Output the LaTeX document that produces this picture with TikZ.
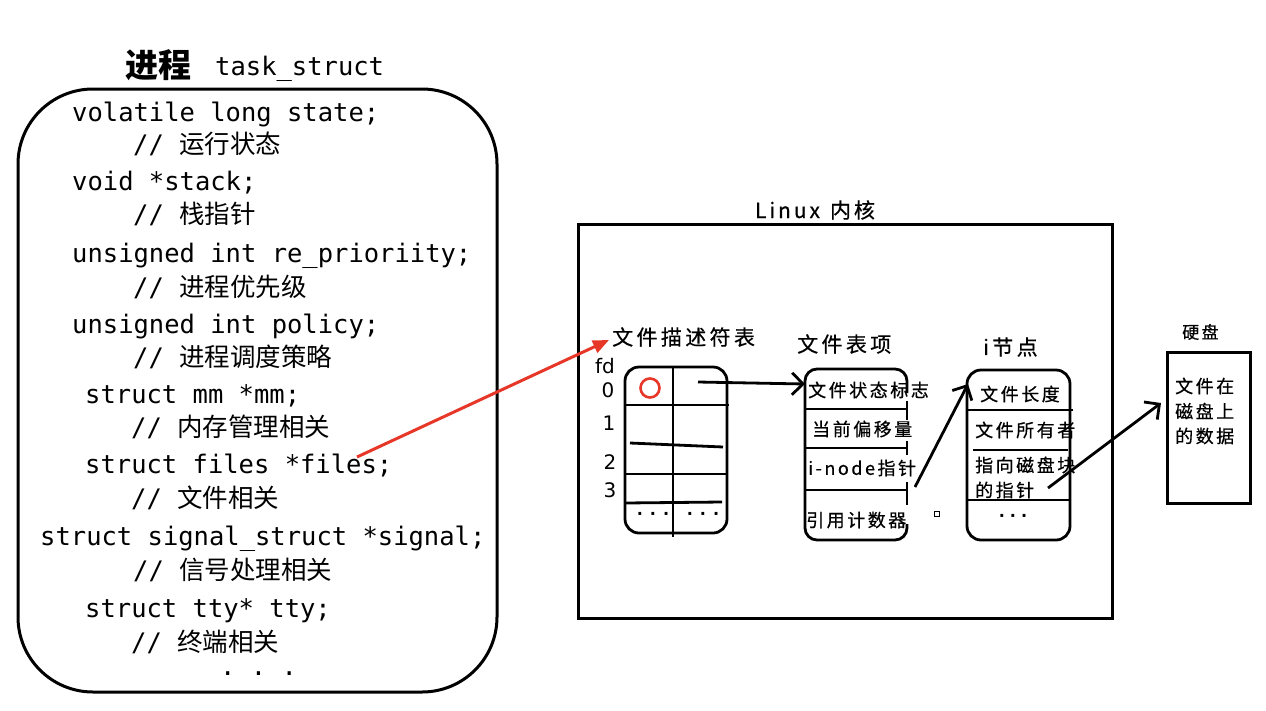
\documentclass[tikz,border=0pt]{standalone}
\usepackage{fontspec}
\setmainfont{DejaVu Sans}
\setmonofont{DejaVu Sans Mono}
\newfontfamily\cjk{Noto Sans CJK SC}
\newfontfamily\cjksp[LetterSpace=14,FakeBold=0.6]{Noto Sans CJK SC}
\newfontfamily\cjkspt[LetterSpace=16,FakeBold=0.6]{Noto Sans CJK SC}
\usetikzlibrary{arrows.meta}
\definecolor{redarrow}{RGB}{230,55,40}
\tikzset{
  code/.style={anchor=base west, inner sep=0pt, font=\ttfamily\fontsize{25.5}{30}\selectfont},
  ptitle/.style={anchor=base west, inner sep=0pt},
  bigline/.style={line width=3pt, black},
  tbl/.style={line width=2.8pt, black},
  ttl/.style={anchor=west, inner sep=0pt, font=\cjkspt\fontsize{21}{24}\selectfont},
  cell/.style={anchor=west, inner sep=0pt, font=\cjksp\fontsize{18}{20}\selectfont},
  fdnum/.style={inner sep=0pt, font=\fontsize{20}{22}\selectfont},
  dots/.style={inner sep=0pt, font=\bfseries\fontsize{16}{18}\selectfont},
  blkarrow/.style={line width=2.8pt, black, -{Straight Barb[length=11pt,width=22pt,line width=2.8pt]}},
  redarr/.style={line width=3pt, redarrow, -{Triangle[length=16pt,width=13pt]}}
}
\begin{document}
\begin{tikzpicture}[x=1pt,y=-1pt]
\useasboundingbox (0,0) rectangle (1266,710);
\fill[white] (0,0) rectangle (1266,710);

% ---- left: process task_struct ----
\node[ptitle, font=\cjk\bfseries\fontsize{33}{36}\selectfont] (procT) at (125,77) {进程};
\node[ptitle, font=\ttfamily\fontsize{25.5}{30}\selectfont] (taskT) at (215,75) {task\_struct};
\draw[bigline, rounded corners=75] (18,89) rectangle (497,692);

\node[code] (l1)  at (72,121)  {volatile long state;};
\node[code] (l2)  at (133,153) {// {\cjk 运行状态}};
\node[code] (l3)  at (72,190)  {void *stack;};
\node[code] (l4)  at (133,223) {// {\cjk 栈指针}};
\node[code] (l5)  at (72,262)  {unsigned int re\_prioriity;};
\node[code] (l6)  at (133,296) {// {\cjk 进程优先级}};
\node[code] (l7)  at (72,333)  {unsigned int policy;};
\node[code] (l8)  at (133,366) {// {\cjk 进程调度策略}};
\node[code] (l9)  at (85,403)  {struct mm *mm;};
\node[code] (l10) at (131,436) {// {\cjk 内存管理相关}};
\node[code] (l11) at (85,473)  {struct files *files;};
\node[code] (l12) at (131,507) {// {\cjk 文件相关}};
\node[code] (l13) at (40,545)  {struct signal\_struct *signal;};
\node[code] (l14) at (133,579) {// {\cjk 信号处理相关}};
\node[code] (l15) at (85,617)  {struct tty* tty;};
\node[code] (l16) at (131,651) {// {\cjk 终端相关}};
\node[code] (l17) at (220,675) {. . .};

% ---- kernel ----
\node[inner sep=0pt, font=\cjksp\fontsize{21}{24}\selectfont] (linuxT) at (815,210) {Linux\hspace{10pt}内核};
\draw[bigline] (578,224) rectangle (1112,618);

% fd table
\node[ttl] (fdT) at (612,337) {文件描述符表};
\node[anchor=base west, inner sep=0pt, font=\fontsize{20}{22}\selectfont] (fdL) at (595,373) {fd};
\node[fdnum] (n0) at (608,390) {0};
\node[fdnum] (n1) at (609,423) {1};
\node[fdnum] (n2) at (610,462) {2};
\node[fdnum] (n3) at (610,490) {3};
\draw[tbl, rounded corners=14] (625,367) rectangle (727,533);
\draw[tbl] (673,367) -- (673,537);
\draw[tbl] (625,405) -- (729,405);
\draw[tbl] (630,443) -- (723,447);
\draw[tbl] (625,474) -- (728,474);
\draw[tbl] (625,503) -- (722,502);
\draw[redarrow, line width=2.6pt] (650,388) circle (9.5);
\node[dots] (fdd1) at (653,516) {·\hspace{7pt}·\hspace{7pt}·};
\node[dots] (fdd2) at (703,516) {·\hspace{7pt}·\hspace{7pt}·};

% file table entry
\node[ttl] (ftT) at (797,344) {文件表项};
\draw[tbl, rounded corners=12] (907,393) -- (907,369) -- (805,369) -- (805,540) -- (907,540) -- (907,524);
\draw[tbl] (805,409) -- (907,409);
\draw[tbl] (805,448) -- (907,448);
\draw[tbl] (805,490) -- (907,490);
\draw[tbl] (907,401) -- (907,420);
\draw[tbl] (907,441) -- (907,455);
\draw[tbl] (907,482) -- (907,505);
\node[cell] (fs1) at (808,390) {文件状态标志};
\node[cell] (fs2) at (812,429) {当前偏移量};
\node[cell] (fs3) at (808,468) {i-node指针};
\node[cell] (fs4) at (806,520) {引用计数器};
\draw[line width=0.8pt] (934,511) rectangle (939,516);

% inode
\node[ttl] (inT) at (983,347) {i节点};
\draw[tbl, rounded corners=14] (967,370) rectangle (1070,540);
\draw[tbl] (967,410) -- (1073,410);
\draw[tbl] (973,450) -- (1068,450);
\draw[tbl] (967,500) -- (1070,500);
\node[cell] (in1) at (980,394) {文件长度};
\node[cell] (in2) at (975,430) {文件所有者};
\node[cell] (in3) at (975,465) {指向磁盘块};
\node[cell] (in4) at (975,490) {的指针};
\node[dots] (ind) at (1013,518) {·\hspace{5pt}·\hspace{5pt}·};

% disk
\node[anchor=west, inner sep=0pt, font=\cjksp\fontsize{17}{20}\selectfont] (hdT) at (1182,332) {硬盘};
\draw[bigline] (1167,352) rectangle (1250,503);
\node[cell] (hd1) at (1175,386) {文件在};
\node[cell] (hd2) at (1175,411) {磁盘上};
\node[cell] (hd3) at (1175,436) {的数据};

% connectors
\coordinate (filesP) at (357,457);
\coordinate (fdIn) at (609,340);
\coordinate (fd0P) at (698,382);
\coordinate (ftIn) at (805,384);
\coordinate (inoP) at (915,487);
\coordinate (inIn) at (968,384);
\coordinate (blkP) at (1048,488);
\coordinate (hdIn) at (1161,403);
\draw[redarr] (filesP) -- (fdIn);
\draw[blkarrow] (fd0P) -- (ftIn);
\draw[blkarrow] (inoP) -- (inIn);
\draw[blkarrow] (blkP) -- (hdIn);
\end{tikzpicture}
\end{document}
